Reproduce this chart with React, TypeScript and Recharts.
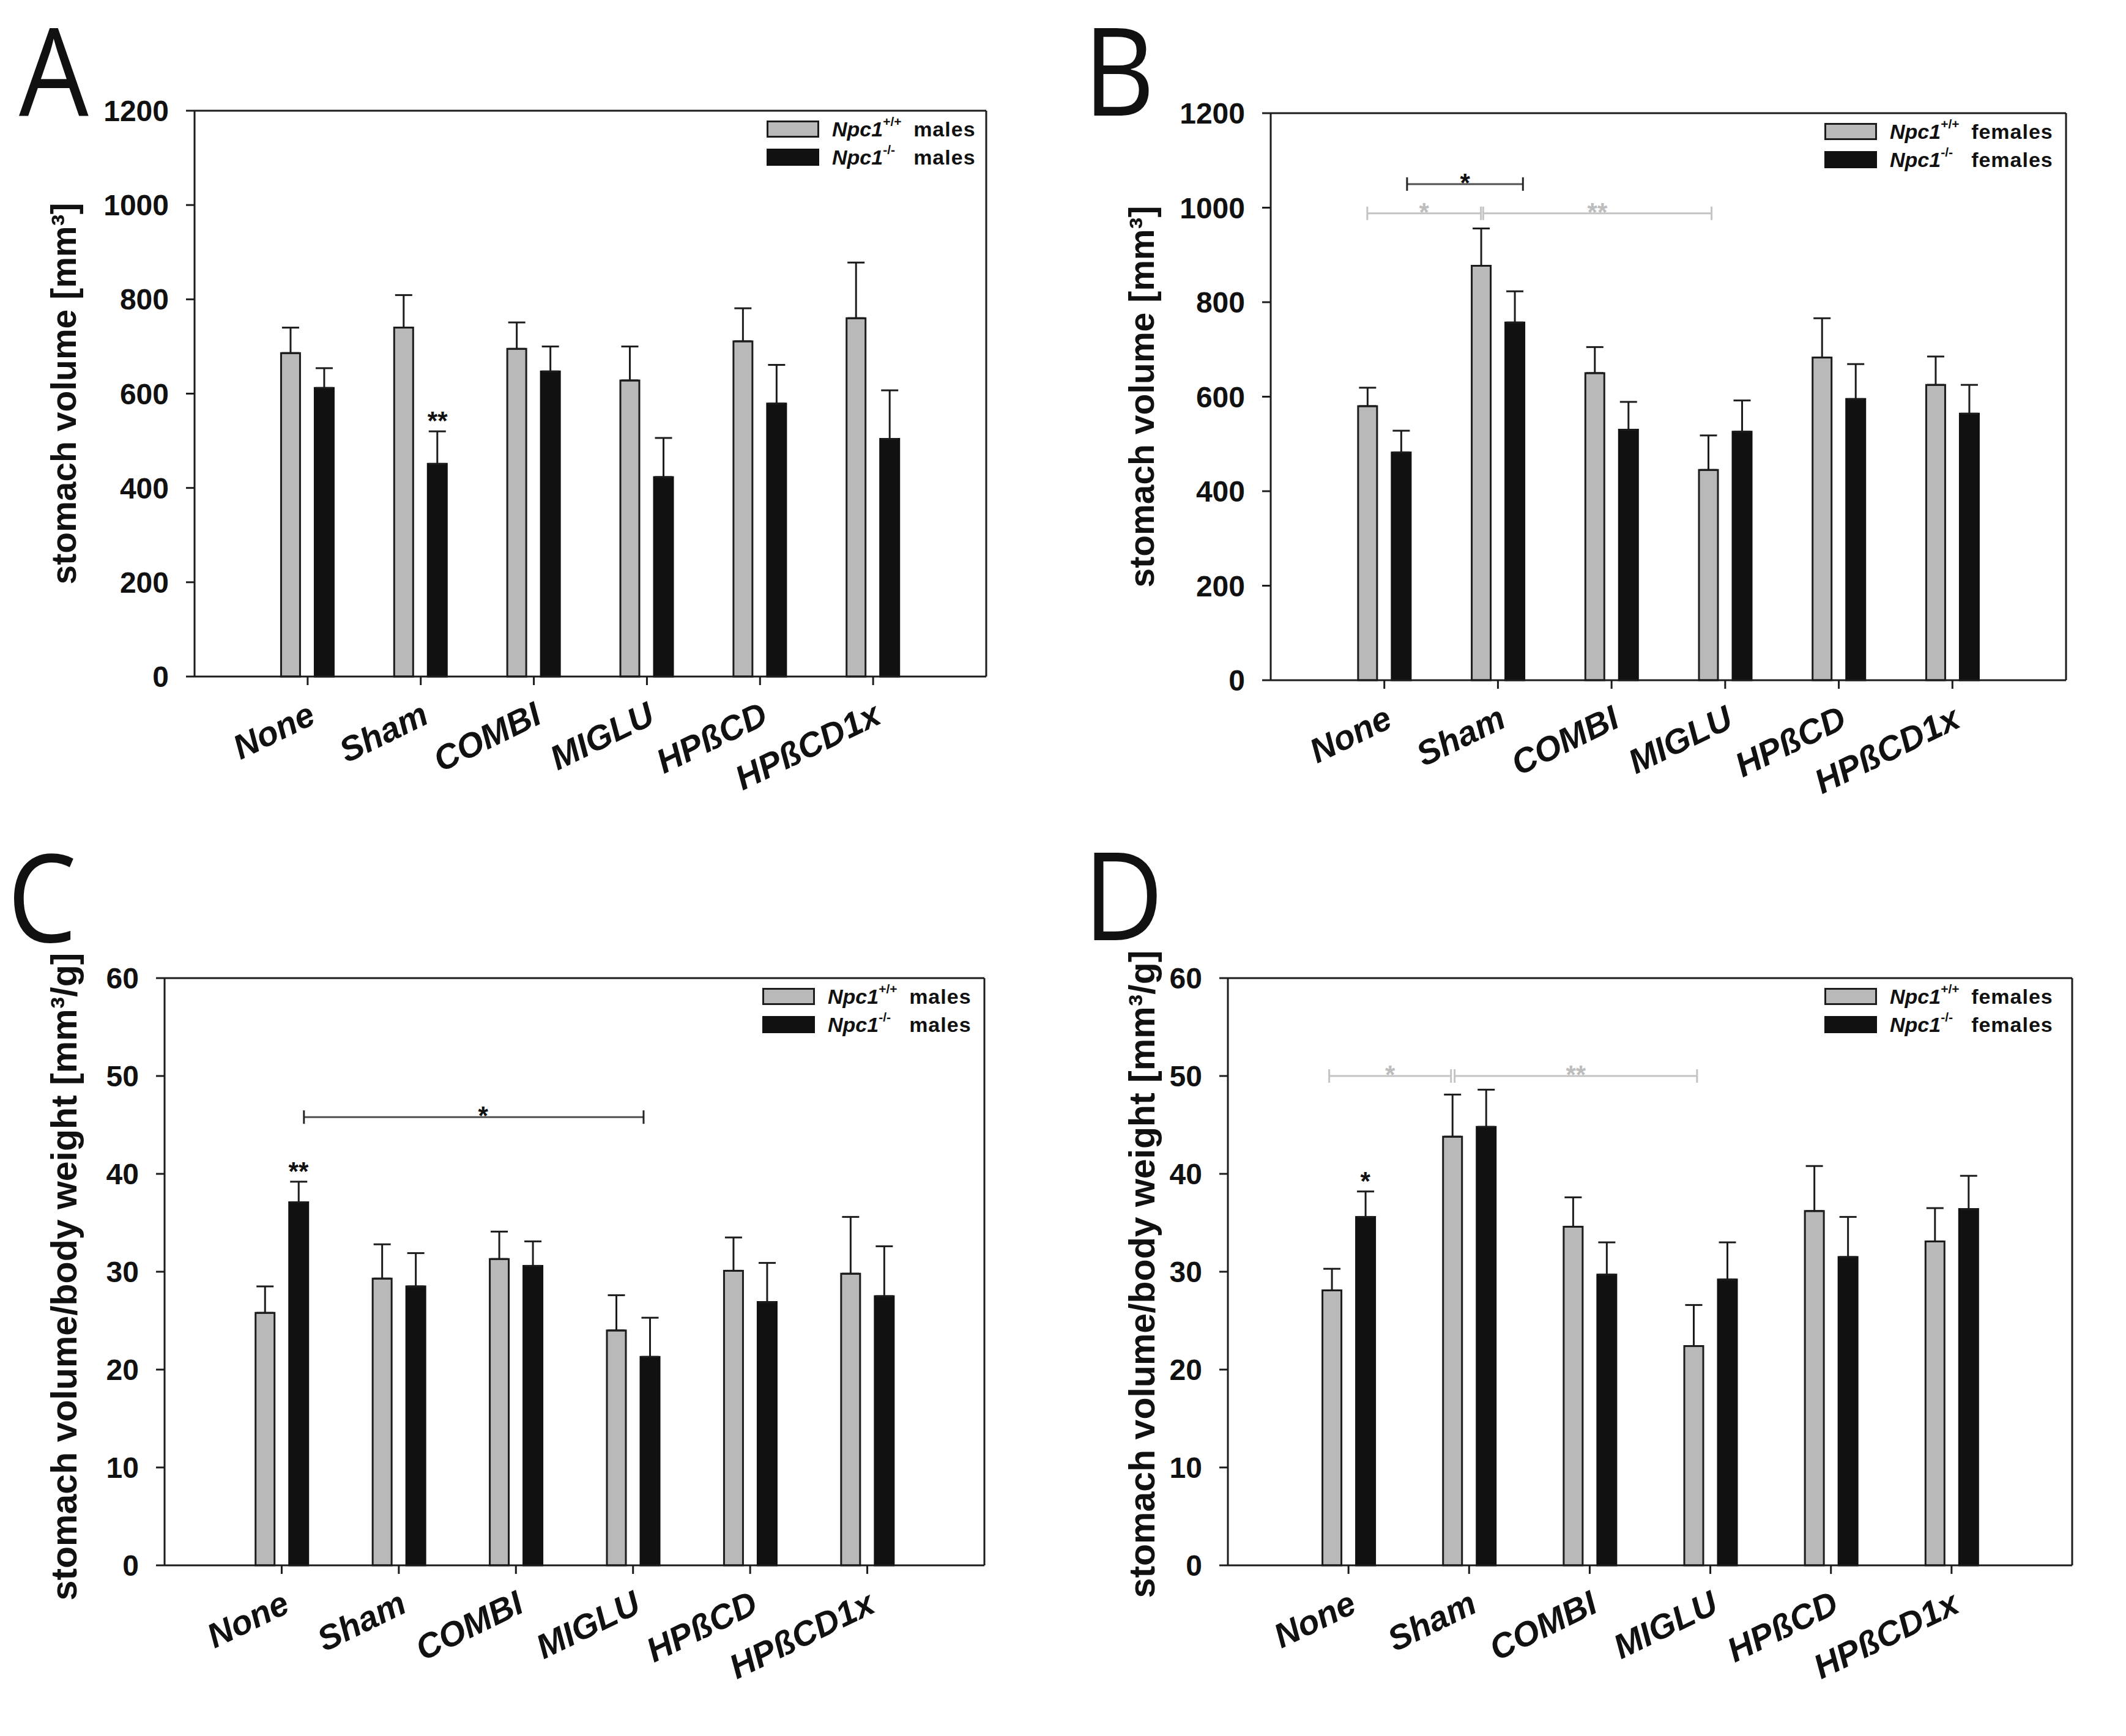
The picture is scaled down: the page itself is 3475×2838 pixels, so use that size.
import React from "react";
import { BarChart, Bar, XAxis, YAxis, ErrorBar, ReferenceLine, ReferenceDot, Legend } from "recharts";

const FONT = '"Liberation Sans", Arial, Helvetica, sans-serif';
const GRAY = "#b9b9b9";
const BLACK = "#111111";
const INK = "#1c1c1c";

const categories = ["None", "Sham", "COMBI", "MIGLU", "HPßCD", "HPßCD1x"];
const catPos = [1, 2, 3, 4, 5, 6];
const genotypes = ["+/+", "-/-"];

const volTicks = [0, 200, 400, 600, 800, 1000, 1200];
const relTicks = [0, 10, 20, 30, 40, 50, 60];

// A - stomach volume, males
const volMaleWt = [686, 740, 695, 628, 711, 760];
const volMaleWtErr = [54, 69, 56, 72, 70, 118];
const volMaleKo = [612, 451, 647, 423, 579, 504];
const volMaleKoErr = [42, 69, 53, 83, 82, 103];
const volMaleKoSig = ["", "**", "", "", "", ""];

// B - stomach volume, females
const volFemWt = [580, 877, 650, 445, 683, 625];
const volFemWtErr = [39, 79, 55, 73, 83, 60];
const volFemKo = [482, 757, 530, 526, 595, 564];
const volFemKoErr = [46, 66, 59, 66, 74, 61];
const volFemKoSig = ["", "", "", "", "", ""];

// C - stomach volume / body weight, males
const relMaleWt = [25.8, 29.3, 31.3, 24.0, 30.1, 29.8];
const relMaleWtErr = [2.7, 3.5, 2.8, 3.6, 3.4, 5.8];
const relMaleKo = [37.1, 28.5, 30.6, 21.3, 26.9, 27.5];
const relMaleKoErr = [2.1, 3.4, 2.5, 4.0, 4.0, 5.1];
const relMaleKoSig = ["**", "", "", "", "", ""];

// D - stomach volume / body weight, females
const relFemWt = [28.1, 43.8, 34.6, 22.4, 36.2, 33.1];
const relFemWtErr = [2.2, 4.3, 3.0, 4.2, 4.6, 3.4];
const relFemKo = [35.6, 44.8, 29.7, 29.2, 31.5, 36.4];
const relFemKoErr = [2.6, 3.8, 3.3, 3.8, 4.1, 3.4];
const relFemKoSig = ["*", "", "", "", "", ""];

// significance brackets: x in category units, tx = where the stars sit
type Bracket = { x1: number; x2: number; y: number; text: string; light: boolean; tx?: number };

const bracketsA: Bracket[] = [];
const bracketsB: Bracket[] = [
  { x1: 1.2, x2: 2.22, y: 1050, text: "*", light: false },
  { x1: 0.85, x2: 1.85, y: 988, text: "*", light: true },
  { x1: 1.87, x2: 3.88, y: 988, text: "**", light: true },
];
const bracketsC: Bracket[] = [{ x1: 1.19, x2: 4.09, y: 45.8, text: "*", light: false, tx: 2.72 }];
const bracketsD: Bracket[] = [
  { x1: 0.84, x2: 1.85, y: 50, text: "*", light: true },
  { x1: 1.88, x2: 3.89, y: 50, text: "**", light: true },
];

const AXIS_W = 250;
const AXIS_H = 250;
const PAD_TOP = 200;
const PAD_RIGHT = 60;

function CategoryTick(props: any) {
  const { x, y, payload } = props;
  const ax = x + 16;
  const ay = y + 61;
  return (
    <text
      x={ax}
      y={ay}
      transform={`rotate(-26, ${ax}, ${ay})`}
      textAnchor="end"
      fontFamily={FONT}
      fontSize={56}
      fontWeight="bold"
      fontStyle="italic"
      fill="#111"
    >
      {categories[catPos.indexOf(payload.value)]}
    </text>
  );
}

function GenotypeLegend({ sex }: { sex: string }) {
  const fills = [GRAY, BLACK];
  return (
    <div style={{ fontFamily: FONT, fontSize: 34, fontWeight: "bold", color: "#111", lineHeight: 1 }}>
      {genotypes.map((g, i) => (
        <div key={g} style={{ display: "flex", alignItems: "center", height: 46, whiteSpace: "nowrap" }}>
          <span
            style={{
              width: 86,
              height: 28,
              boxSizing: "border-box",
              background: fills[i],
              border: `3px solid ${i === 0 ? INK : BLACK}`,
              marginRight: 21,
              flex: "none",
            }}
          />
          <span style={{ fontStyle: "italic" }}>Npc1</span>
          <span style={{ fontSize: 21, position: "relative", top: -13, width: 50, display: "inline-block" }}>{g}</span>
          <span style={{ letterSpacing: 1 }}>{sex}</span>
        </div>
      ))}
    </div>
  );
}

const bracketShape = (b: Bracket, unitPx: number) => (p: any) => {
  const col = b.light ? "#c4c4c4" : "#505050";
  const endCol = b.light ? "#c4c4c4" : "#262626";
  const { x1, y1, x2 } = p;
  const tx = b.tx !== undefined ? x1 + (b.tx - b.x1) * unitPx : (x1 + x2) / 2;
  return (
    <g>
      <line x1={x1} y1={y1} x2={x2} y2={y1} stroke={col} strokeWidth={3} />
      <line x1={x1} y1={y1 - 11} x2={x1} y2={y1 + 11} stroke={endCol} strokeWidth={3} />
      <line x1={x2} y1={y1 - 11} x2={x2} y2={y1 + 11} stroke={endCol} strokeWidth={3} />
      <text
        x={tx}
        y={y1 + 12}
        textAnchor="middle"
        fontFamily={FONT}
        fontSize={42}
        fontWeight="bold"
        fill={b.light ? "#bdbdbd" : "#111"}
      >
        {b.text}
      </text>
    </g>
  );
};

interface PanelProps {
  box: { x: number; y: number; w: number; h: number };
  wt: number[];
  wtErr: number[];
  ko: number[];
  koErr: number[];
  koSig: string[];
  ticks: number[];
  yLabel: string;
  yLabelSize: number;
  yLabelX: number;
  yLabelDy: number;
  sex: string;
  legendFromRight: number;
  brackets: Bracket[];
}

function Panel(props: PanelProps) {
  const { box, wt, wtErr, ko, koErr, koSig, ticks, yLabel, yLabelSize, yLabelX, yLabelDy, sex, legendFromRight, brackets } = props;
  const data = catPos.map((x, i) => ({
    x,
    wt: wt[i],
    ko: ko[i],
    wtErr: [0, wtErr[i]],
    koErr: [0, koErr[i]],
  }));
  const yMax = ticks[ticks.length - 1];
  const chartLeft = box.x - AXIS_W;
  const chartTop = box.y - PAD_TOP;
  const unitPx = box.w / 7;
  const koShift = 27.5 / unitPx;

  return (
    <div style={{ position: "absolute", left: chartLeft, top: chartTop }}>
      <BarChart
        width={box.w + AXIS_W + PAD_RIGHT}
        height={box.h + PAD_TOP + AXIS_H}
        data={data}
        margin={{ top: PAD_TOP, right: PAD_RIGHT, bottom: 0, left: 0 }}
        barSize={31}
        barGap={24}
      >
        <XAxis
          dataKey="x"
          type="number"
          domain={[0, 7]}
          ticks={catPos}
          interval={0}
          height={AXIS_H}
          axisLine={{ stroke: INK, strokeWidth: 3 }}
          tickLine={{ stroke: INK, strokeWidth: 3 }}
          tickSize={14}
          tickMargin={0}
          tick={<CategoryTick />}
        />
        <YAxis
          type="number"
          domain={[0, yMax]}
          ticks={ticks}
          interval={0}
          width={AXIS_W}
          axisLine={{ stroke: INK, strokeWidth: 3 }}
          tickLine={{ stroke: INK, strokeWidth: 3 }}
          tickSize={14}
          tickMargin={28}
          tick={{ fontSize: 48, fontWeight: "bold", fill: "#111", fontFamily: FONT }}
          label={{
            value: yLabel,
            angle: -90,
            position: "center",
            dx: yLabelX - chartLeft - AXIS_W / 2,
            dy: yLabelDy,
            fontSize: yLabelSize,
            fontWeight: "bold",
            fill: "#111",
            fontFamily: FONT,
          }}
        />
        <ReferenceLine y={yMax} stroke={INK} strokeWidth={3} />
        <ReferenceLine x={7} stroke={INK} strokeWidth={3} />
        <Bar dataKey="wt" fill={GRAY} stroke={INK} strokeWidth={3} isAnimationActive={false}>
          <ErrorBar dataKey="wtErr" direction="y" width={14} stroke={INK} strokeWidth={3} isAnimationActive={false} />
        </Bar>
        <Bar dataKey="ko" fill={BLACK} stroke={BLACK} strokeWidth={3} isAnimationActive={false}>
          <ErrorBar dataKey="koErr" direction="y" width={14} stroke={INK} strokeWidth={3} isAnimationActive={false} />
        </Bar>
        {brackets.map((b, i) => (
          <ReferenceLine
            key={`br${i}`}
            segment={[
              { x: b.x1, y: b.y },
              { x: b.x2, y: b.y },
            ]}
            shape={bracketShape(b, unitPx)}
          />
        ))}
        {koSig.map((s, i) =>
          s ? (
            <ReferenceDot
              key={`sig${i}`}
              x={catPos[i] + koShift}
              y={ko[i] + koErr[i]}
              r={0}
              shape={(p: any) => (
                <text x={p.cx} y={p.cy - 3} textAnchor="middle" fontFamily={FONT} fontSize={42} fontWeight="bold" fill="#111">
                  {s}
                </text>
              )}
            />
          ) : null
        )}
        <Legend
          layout="horizontal"
          verticalAlign="middle"
          align="center"
          wrapperStyle={{ left: AXIS_W + box.w - legendFromRight, top: PAD_TOP + 7, width: legendFromRight, height: 92 }}
          content={() => <GenotypeLegend sex={sex} />}
        />
      </BarChart>
    </div>
  );
}

const panelLetters = [
  { t: "A", x: 31, y: 189 },
  { t: "B", x: 1771, y: 189 },
  { t: "C", x: 12, y: 1540 },
  { t: "D", x: 1771, y: 1537 },
];

export default function App() {
  return (
    <div style={{ position: "absolute", left: 0, top: 0, width: 3475, height: 2838, background: "#fff", overflow: "hidden" }}>
      <Panel
        box={{ x: 318, y: 181, w: 1294, h: 925 }}
        wt={volMaleWt}
        wtErr={volMaleWtErr}
        ko={volMaleKo}
        koErr={volMaleKoErr}
        koSig={volMaleKoSig}
        ticks={volTicks}
        yLabel="stomach volume [mm³]"
        yLabelSize={57}
        yLabelX={104}
        yLabelDy={0}
        sex="males"
        legendFromRight={359}
        brackets={bracketsA}
      />
      <Panel
        box={{ x: 2077, y: 185, w: 1300, h: 927 }}
        wt={volFemWt}
        wtErr={volFemWtErr}
        ko={volFemKo}
        koErr={volFemKoErr}
        koSig={volFemKoSig}
        ticks={volTicks}
        yLabel="stomach volume [mm³]"
        yLabelSize={57}
        yLabelX={1866}
        yLabelDy={0}
        sex="females"
        legendFromRight={395}
        brackets={bracketsB}
      />
      <Panel
        box={{ x: 269, y: 1599, w: 1340, h: 960 }}
        wt={relMaleWt}
        wtErr={relMaleWtErr}
        ko={relMaleKo}
        koErr={relMaleKoErr}
        koSig={relMaleKoSig}
        ticks={relTicks}
        yLabel="stomach volume/body weight [mm³/g]"
        yLabelSize={59}
        yLabelX={104}
        yLabelDy={8}
        sex="males"
        legendFromRight={363}
        brackets={bracketsC}
      />
      <Panel
        box={{ x: 2007, y: 1599, w: 1380, h: 960 }}
        wt={relFemWt}
        wtErr={relFemWtErr}
        ko={relFemKo}
        koErr={relFemKoErr}
        koSig={relFemKoSig}
        ticks={relTicks}
        yLabel="stomach volume/body weight [mm³/g]"
        yLabelSize={59}
        yLabelX={1866}
        yLabelDy={4}
        sex="females"
        legendFromRight={405}
        brackets={bracketsD}
      />
      <svg width={3475} height={2838} style={{ position: "absolute", left: 0, top: 0, pointerEvents: "none" }}>
        {panelLetters.map((l) => (
          <text
            key={l.t}
            x={l.x}
            y={l.y}
            transform={`translate(${l.x}, 0) scale(0.9, 1) translate(${-l.x}, 0)`}
            fontFamily='"Open Sans", "DejaVu Sans", sans-serif'
            fontSize={200}
            fill="#111"
          >
            {l.t}
          </text>
        ))}
      </svg>
    </div>
  );
}
